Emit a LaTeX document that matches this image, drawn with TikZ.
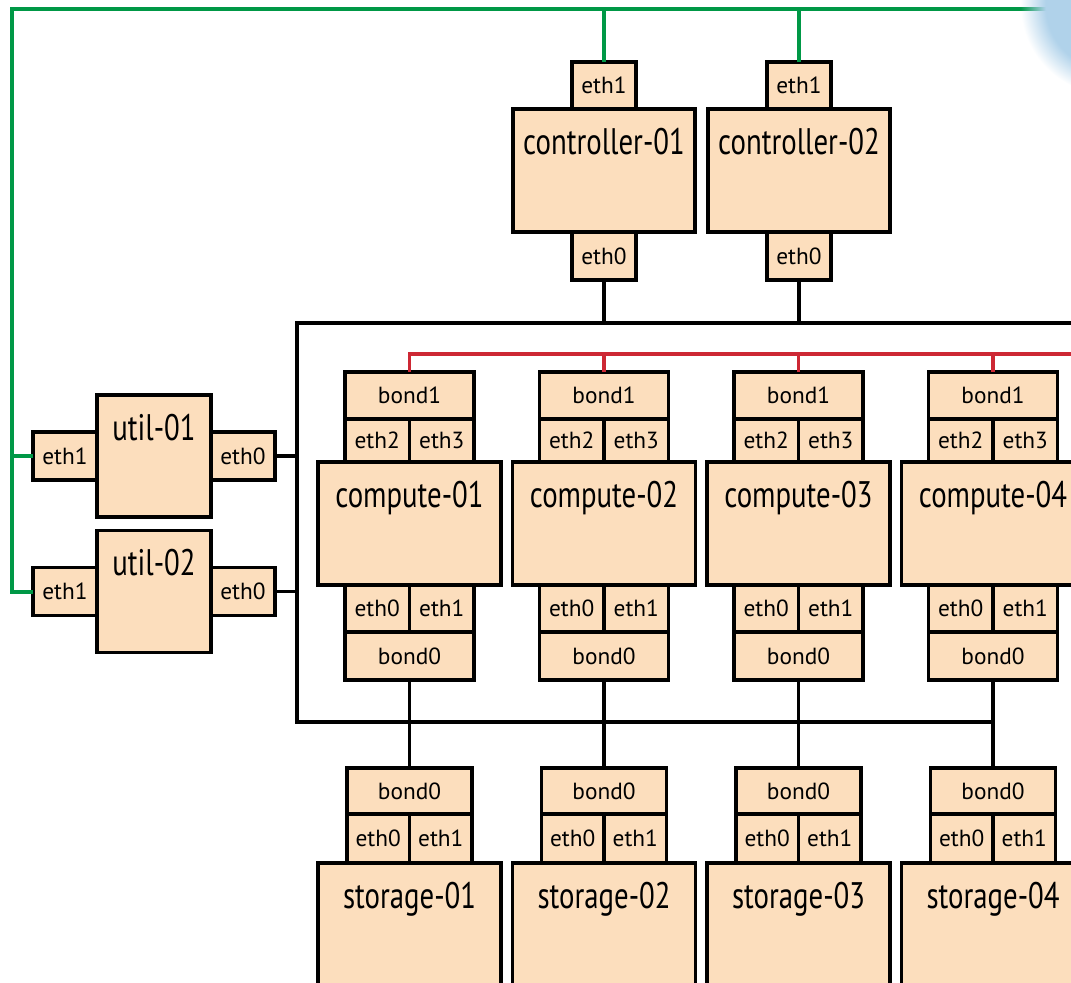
\documentclass[tikz,border=0pt]{standalone}
\usepackage{fontspec}
\setmainfont{PT Sans}
\newfontfamily\narrowsans[FakeStretch=0.78]{PT Sans}
\usetikzlibrary{fadings}
\definecolor{peach}{RGB}{252,222,189}
\definecolor{netgreen}{RGB}{0,152,70}
\definecolor{netred}{RGB}{205,40,52}
\definecolor{blobblue}{RGB}{176,210,234}
\pgfdeclareradialshading{blobshade}{\pgfpointorigin}{color(0bp)=(white); color(18bp)=(white); color(25bp)=(black); color(50bp)=(black)}
\pgfdeclarefading{blobfade}{\pgfuseshading{blobshade}}
\newcommand\hostfont{\narrowsans\fontsize{27.7}{30}\selectfont}
\newcommand\portfont{\fontsize{17.5}{20}\selectfont}
\begin{document}
\begin{tikzpicture}[x=0.75pt,y=-0.75pt,
  box/.style={draw=black, line width=2.9pt, fill=peach, inner sep=0pt, outer sep=0pt},
  port/.style={box, font=\portfont},
  hostlabel/.style={label={[font=\hostfont, anchor=base, yshift=-33.75pt]north:#1}},
  blackline/.style={draw=black, line width=2.4pt},
  greenline/.style={draw=netgreen, line width=3pt},
  redline/.style={draw=netred, line width=2.8pt}]
\useasboundingbox (0,0) rectangle (1071,982);
\clip (0,0) rectangle (1071,982);
% controllers
\foreach \j/\cx in {1/604, 2/799} {
  \node[box, hostlabel=controller-0\j, minimum width=136.5pt, minimum height=92.25pt] (c\j) at (\cx,170.5) {};
  \node[port, minimum width=48pt, minimum height=35.25pt, anchor=south] (c\j e1) at (c\j.north) {eth1};
  \node[port, minimum width=48pt, minimum height=36pt, anchor=north] (c\j e0) at (c\j.south) {eth0};
}
% utils
\foreach \j/\cy in {1/456, 2/591.5} {
  \node[box, hostlabel=util-0\j, minimum width=85.5pt, minimum height=91.5pt] (u\j) at (154,\cy) {};
  \node[port, minimum width=48pt, minimum height=36pt, anchor=east] (u\j e1) at (u\j.west) {eth1};
  \node[port, minimum width=48pt, minimum height=36pt, anchor=west] (u\j e0) at (u\j.east) {eth0};
}
% compute and storage columns
\foreach \i/\cx in {1/409.5, 2/604, 3/798.5, 4/993} {
  \node[box, hostlabel=compute-0\i, minimum width=137.25pt, minimum height=92.25pt] (k\i) at (\cx,523.5) {};
  \node[port, minimum width=48.4pt, minimum height=32.25pt, anchor=south east] (k\i e2) at (k\i.north) {eth2};
  \node[port, minimum width=48.4pt, minimum height=32.25pt, anchor=south west] (k\i e3) at (k\i.north) {eth3};
  \node[port, minimum width=96.75pt, minimum height=35.25pt, anchor=south] (k\i b1) at (k\i e2.north east) {bond1};
  \node[port, minimum width=48.4pt, minimum height=35.25pt, anchor=north east] (k\i e0) at (k\i.south) {eth0};
  \node[port, minimum width=48.4pt, minimum height=35.25pt, anchor=north west] (k\i e1) at (k\i.south) {eth1};
  \node[port, minimum width=96.75pt, minimum height=36pt, anchor=north] (k\i b0) at (k\i e0.south east) {bond0};
  \node[box, hostlabel=storage-0\i, minimum width=137.25pt, minimum height=112.5pt, anchor=north] (s\i) at (\cx,863) {};
  \node[port, minimum width=46.9pt, minimum height=36.75pt, anchor=south east] (s\i e0) at (s\i.north) {eth0};
  \node[port, minimum width=46.9pt, minimum height=36.75pt, anchor=south west] (s\i e1) at (s\i.north) {eth1};
  \node[port, minimum width=93.75pt, minimum height=34.5pt, anchor=south] (s\i b0) at (s\i e0.north east) {bond0};
}
% black network
\coordinate (bTL) at (297,323);
\coordinate (bTR) at (1085,323);
\coordinate (bBL) at (297,722);
\draw[blackline] (bTR) -- (bTL) -- (bBL) -- (bBL -| k4b0.south);
\foreach \j in {1,2} {
  \draw[blackline] (c\j e0.south) -- (c\j e0.south |- bTL);
  \draw[blackline] (u\j e0.east) -- (u\j e0.east -| bTL);
}
\foreach \i in {1,2,3,4} {
  \draw[blackline] (k\i b0.south) -- (s\i b0.north);
}
% red network
\coordinate (rR) at (1085,354);
\draw[redline] (rR) -- (rR -| k1b1.north) -- (k1b1.north);
\foreach \i in {2,3,4} {
  \draw[redline] (k\i b1.north) -- (k\i b1.north |- rR);
}
% green network
\coordinate (gTL) at (12,9);
\coordinate (gTR) at (1085,9);
\draw[greenline] (gTR) -- (gTL) |- (u2e1.west);
\draw[greenline] (gTL |- u1e1.west) -- (u1e1.west);
\foreach \j in {1,2} {
  \draw[greenline] (c\j e1.north) -- (c\j e1.north |- gTL);
}
% cloud blob
\fill[blobblue, path fading=blobfade] (1110,5) circle[radius=67pt];
\end{tikzpicture}
\end{document}
